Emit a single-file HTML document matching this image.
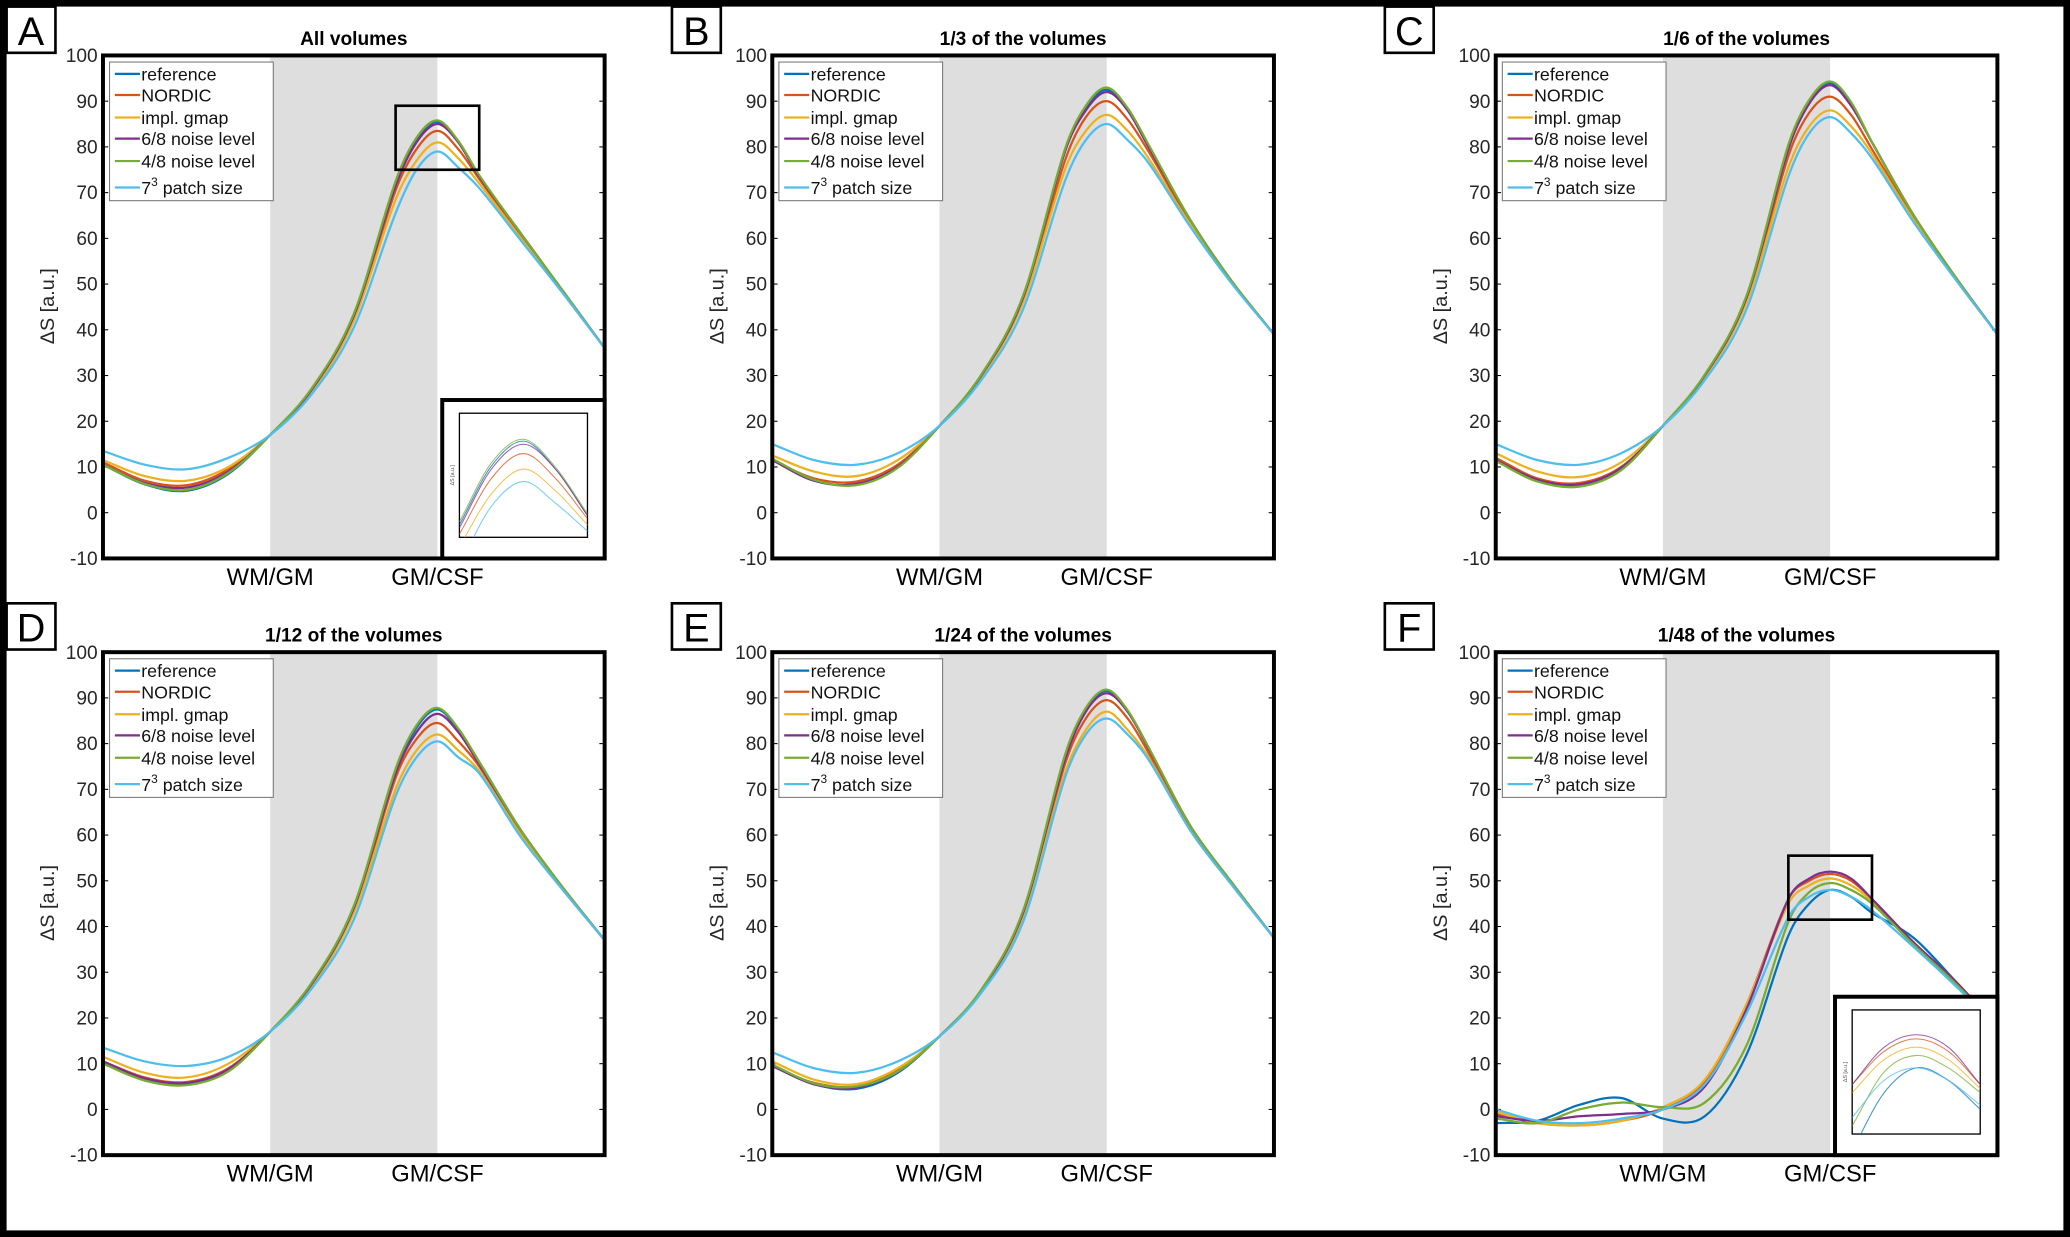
<!DOCTYPE html>
<html><head><meta charset="utf-8"><style>
html,body{margin:0;padding:0;background:#fff;width:2070px;height:1237px;overflow:hidden;position:relative;}
svg{display:block;position:absolute;left:0;top:0;}
text{font-family:"Liberation Sans","DejaVu Sans",sans-serif;}
</style></head><body>
<svg id="fig" width="2070" height="1237" viewBox="0 0 1568 937" preserveAspectRatio="none" xmlns="http://www.w3.org/2000/svg"></svg>
<script>
const seriesNames = ["reference","NORDIC","impl. gmap","6/8 noise level","4/8 noise level","7³ patch size"];
const seriesColors = ["#0072BD","#D95319","#EDB120","#7E2F8E","#77AC30","#4DBEEE"];
const yTicks = [100,90,80,70,60,50,40,30,20,10,0,-10];
const panelTitles = ["All volumes","1/3 of the volumes","1/6 of the volumes","1/12 of the volumes","1/24 of the volumes","1/48 of the volumes"];
const panelLetters = ["A","B","C","D","E","F"];
const depth = [0,1,2,3,4,5,6,7,7.5,8,8.5,9,10,11,12];
const panelA = [
 [10.5,6.2,4.8,8.5,17,27,43,72,81.5,85.5,81,73.5,61,48.5,36],
 [11,7,6,9.5,17,27,42.5,70.5,79.5,83.5,79.5,73,60.5,48.5,36],
 [11.5,8,7,10,17,26.5,42,68.5,77,81,77.5,72,60,48,36],
 [10.5,6.5,5.5,9,17,27,43,71.5,81,85,81,73.5,61,48.5,36],
 [10.5,6.3,5,8.7,17,27.3,43.5,72.5,82,85.8,81.3,73.8,61,48.5,36],
 [13.5,10.5,9.5,12,17,26,40.5,65.5,75,79,75.5,71,59.5,48,36]];
const panelB = [
 [11.5,7,6.2,10,19,30,47,79,88.5,92.5,88,80,64,50.5,39],
 [11.5,7.5,6.8,10.5,19,30,46.5,77,86.5,90,86,79,63.5,50.5,39],
 [12.5,9,8,11.5,19,29.5,46,75,83.5,87,83.5,77.5,63,50.5,39],
 [11.5,7,6.3,10,19,30,47,79,88,92,88,80,64,50.5,39],
 [11.8,7.2,6,9.8,19,30.2,47.5,79.5,89,93,88.5,80.5,64,50.5,39],
 [15,11.5,10.5,13,19,29,44.5,72.5,81.5,85,81.5,76.5,62.5,50,39]];
const panelC = [
 [11.5,7,5.8,9.5,19,30,47,80,90,94,89.5,81,65,51.5,39],
 [12,7.5,6.5,10,19,30,46.5,78,87.5,91,87,79.5,64.5,51.5,39],
 [13,9,7.8,11,19,29.5,46,75.5,84.5,88,84.5,78.5,64,51,39],
 [11.5,7.2,6.2,9.8,19,30,47,79.5,89.5,93.5,89,81,65,51.5,39],
 [11.3,6.8,5.7,9.3,19,30.2,47.5,80.5,90.3,94.3,89.8,81,65,51.5,39],
 [15,11.5,10.5,13,19,29,44.5,73.5,83,86.5,83,77.5,63.5,51,39]];
const panelD = [
 [10,6.5,5.5,8.5,17,27.5,44,74,83.5,87.5,83,76,61,48.5,37],
 [10.5,7,6,9,17,27.5,43.5,72.5,81,84.5,80.5,75,60.5,48.5,37],
 [11.5,8,7,10,17,27,43,70,78.5,82,78.5,74,60,48,37],
 [10.5,6.8,5.8,8.8,17,27.5,44,73.5,82.5,86.5,82.5,75.5,61,48.5,37],
 [10,6.3,5.3,8.3,17,27.8,44.5,74.5,84,87.8,83.3,76,61,48.5,37],
 [13.5,10.5,9.5,11.5,17,26.5,41.5,68.5,77,80.5,77,73.5,59.5,48,37]];
const panelE = [
 [9.5,5.5,4.5,8,16,26,43,77,87.5,91.5,87,79,62,49.5,37.5],
 [9.5,5.8,5,8.5,16,26,42.5,75.5,85.5,89.5,85.5,78,61.5,49.5,37.5],
 [10.5,6.5,5.5,9,16,26,42,73.5,83,87,83,77,61,49,37.5],
 [9.5,5.5,4.8,8.2,16,26,43,76.5,87,91,87,79,62,49.5,37.5],
 [9.8,5.7,5,8.3,16,26.2,43.5,77.5,87.8,91.8,87.3,79.2,62,49.5,37.5],
 [12.5,9,8,10.5,16,25.5,41,72.5,82,85.5,82,76.5,61,49,37.5]];
const panelF = [
 [-3,-2.5,1,2.5,-2,-1.5,12,38,45,48,46.5,43,37.5,28,18],
 [-1,-3,-3.5,-2.5,0,6,23,46,50,51.5,50,46,36.5,28,18],
 [-0.5,-3,-3.5,-2.5,0.5,6.5,23,45,49,50.5,49,45.5,36,27.5,18],
 [-1.5,-2.5,-1.5,-1,0,5,22,46,50.5,52,50.5,46,36.5,28,18],
 [-2,-3,0,1.5,0.5,1.5,14,41,47.5,49.5,48,45,36,27.5,18],
 [0,-2.5,-3,-2,0,5.5,21,42,46.5,48,46.5,43.5,35.5,27,18]];
const panelData = [panelA,panelB,panelC,panelD,panelE,panelF];

const NS="http://www.w3.org/2000/svg";
const svg=document.getElementById('fig');
function mk(tag,attrs,parent){const e=document.createElementNS(NS,tag);for(const k in attrs)e.setAttribute(k,attrs[k]);(parent||svg).appendChild(e);return e;}
function pathFrom(pts){
  let d="M"+pts[0][0].toFixed(2)+","+pts[0][1].toFixed(2);
  for(let i=0;i<pts.length-1;i++){
    const p0=pts[Math.max(0,i-1)],p1=pts[i],p2=pts[i+1],p3=pts[Math.min(pts.length-1,i+2)];
    const h=p2[0]-p1[0];
    const s1=(p2[1]-p0[1])/((p2[0]-p0[0])||1), s2=(p3[1]-p1[1])/((p3[0]-p1[0])||1);
    const c1=[p1[0]+h/3,p1[1]+s1*h/3];
    const c2=[p2[0]-h/3,p2[1]-s2*h/3];
    d+=" C"+c1[0].toFixed(2)+","+c1[1].toFixed(2)+" "+c2[0].toFixed(2)+","+c2[1].toFixed(2)+" "+p2[0].toFixed(2)+","+p2[1].toFixed(2);
  }
  return d;
}
mk('rect',{x:2.5,y:2.5,width:1563,height:932,fill:'none',stroke:'#000','stroke-width':5});

const lefts=[78,585,1133], tops=[42,494], W=380, H=381;
const lettersX=[5,509,1049];
for(let p=0;p<6;p++){
  const col=p%3,row=Math.floor(p/3);
  const L=lefts[col],T=tops[row];
  const g=mk('g',{});
  
  
  const xs=t=>L+t/12*W;
  const ys=v=>T+(100-v)/110*H;
  const lb=mk('rect',{x:lettersX[col],y:T-37,width:37,height:35,fill:'#fff',stroke:'#000','stroke-width':2},g);
  
  const lt=mk('text',{x:lettersX[col]+18.5,y:T-8,'text-anchor':'middle','font-size':30},g);lt.textContent=panelLetters[p];
  
  const band=mk('rect',{x:xs(4),y:T,width:xs(8)-xs(4),height:H,fill:'#dedede'},g);
  
  const ti=mk('text',{x:L+W/2,y:T-8,'text-anchor':'middle','font-size':14.5,'font-weight':'bold'},g);ti.textContent=panelTitles[p];
  
  yTicks.forEach(v=>{
    const y=ys(v);
    mk('line',{x1:L,x2:L+4,y1:y,y2:y,stroke:'#000','stroke-width':0.8},g);
    mk('line',{x1:L+W-4,x2:L+W,y1:y,y2:y,stroke:'#000','stroke-width':0.8},g);
    const tl=mk('text',{x:L-4,y:y+5,'text-anchor':'end','font-size':14.5,fill:'#262626'},g);tl.textContent=v;
    
  });
  const yl=mk('text',{x:0,y:0,'text-anchor':'middle','font-size':15,fill:'#262626',transform:`translate(${L-37},${T+190}) rotate(-90)`},g);
  yl.textContent='ΔS [a.u.]';
  [[4,'WM/GM'],[8,'GM/CSF']].forEach(([t,s])=>{
    const xl=mk('text',{x:xs(t),y:T+H+20,'text-anchor':'middle','font-size':18},g);xl.textContent=s;
    
  });
  const cid='clip'+p;
  const cp=mk('clipPath',{id:cid},g);mk('rect',{x:L,y:T,width:W,height:H},cp);
  const data=panelData[p];
  data.forEach((vals,si)=>{
    const pts=vals.map((v,i)=>[xs(depth[i]),ys(v)]);
    const pa=mk('path',{d:pathFrom(pts),fill:'none',stroke:seriesColors[si],'stroke-width':1.7,'clip-path':`url(#${cid})`},g);
    
    
  });
  const lg=mk('g',{},g);
  mk('rect',{x:L+5,y:T+5,width:124,height:105,fill:'#fff',stroke:'#777','stroke-width':0.8},lg);
  const ly=[14,30,47,63,80,100];
  seriesNames.forEach((n,si)=>{
    const e=mk('g',{},lg);
    mk('line',{x1:L+9,x2:L+28,y1:T+ly[si],y2:T+ly[si],stroke:seriesColors[si],'stroke-width':1.7},e);
    const tx=mk('text',{x:L+29,y:T+ly[si]+5,'font-size':13.5,fill:'#111'},e);
    if(si===5){tx.innerHTML='7<tspan dy="-6" font-size="9">3</tspan><tspan dy="6"> patch size</tspan>';}
    else tx.textContent=n;
  });
  const ax=mk('rect',{x:L,y:T,width:W,height:H,fill:'none',stroke:'#000','stroke-width':3},g);
  
  if(p===0||p===5){
    const zx0=7,zx1=9, zy0=(p===0?75:41.5), zy1=(p===0?89:55.5);
    const zr=mk('rect',{x:xs(zx0),y:ys(zy1),width:xs(zx1)-xs(zx0),height:ys(zy0)-ys(zy1),fill:'none',stroke:'#000','stroke-width':2},g);
    
    const IL=L+W-123, IT=T+H-120;
    const ig=mk('g',{},g);
    mk('rect',{x:IL,y:IT,width:123,height:120,fill:'#fff',stroke:'#000','stroke-width':3},ig);
    const iL=IL+13,iT=IT+10,iW=97,iH=94;
    mk('rect',{x:iL,y:iT,width:iW,height:iH,fill:'#fff',stroke:'#000','stroke-width':1},ig);
    const iy0=(p===0?70:40), iy1=(p===0?90:55);
    const ixs=t=>iL+(t-zx0)/(zx1-zx0)*iW;
    const iys=v=>iT+(iy1-v)/(iy1-iy0)*iH;
    const icid='iclip'+p;const icp=mk('clipPath',{id:icid},ig);mk('rect',{x:iL,y:iT,width:iW,height:iH},icp);
    data.forEach((vals,si)=>{
      const pts=[];
      vals.forEach((v,i)=>{ if(depth[i]>=zx0 && depth[i]<=zx1) pts.push([ixs(depth[i]),iys(v)]); });
      const pa=mk('path',{d:pathFrom(pts),fill:'none',stroke:seriesColors[si],'stroke-width':0.8,opacity:0.75,'clip-path':`url(#${icid})`},ig);
      
    });
    const it=mk('text',{x:0,y:0,'font-size':4,fill:'#555','text-anchor':'middle',transform:`translate(${iL-4},${iT+iH/2}) rotate(-90)`},ig);it.textContent='ΔS [a.u.]';
  }
}
</script>
</body></html>
